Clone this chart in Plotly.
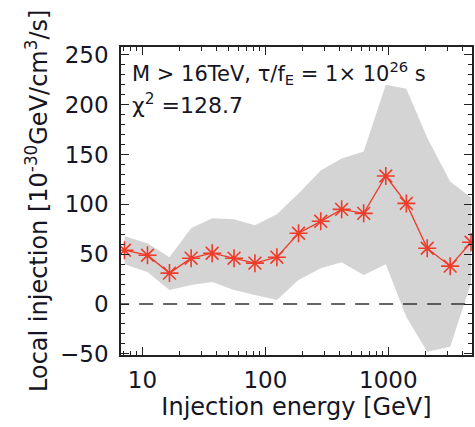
import plotly.graph_objects as go

energy = [7.15, 11.0, 16.6, 24.9, 36.9, 55.6, 82.2, 124, 186, 282, 417, 630, 953, 1400, 2070, 3180, 4700]
injection = [54, 49, 31, 46, 51, 46, 41, 47, 71, 83, 95, 91, 128.5, 101, 56, 38, 62]
band_upper = [68, 61, 47, 76, 86, 85, 79, 90, 111, 134, 146, 153, 220, 216, 167, 123, 107]
band_lower = [40, 32, 14, 19, 22, 14, 9, 4, 24, 36, 42, 29, 40, -13, -48, -43, 21]

x_ticks = [10, 100, 1000]
y_ticks = [-50, 0, 50, 100, 150, 200, 250]

FONT = "DejaVu Sans, Verdana, sans-serif"
TXT = "#151525"
RED = "#ee3b2a"

fig = go.Figure()
fig.add_trace(go.Scatter(x=energy, y=band_upper, mode="lines", line=dict(width=0, color="#d4d4d4"),
                         showlegend=False, hoverinfo="skip"))
fig.add_trace(go.Scatter(x=energy, y=band_lower, mode="lines", line=dict(width=0, color="#d4d4d4"),
                         fill="tonexty", fillcolor="#d4d4d4", showlegend=False, hoverinfo="skip"))
fig.add_trace(go.Scatter(x=[6.0, 6000], y=[0, 0], mode="lines",
                         line=dict(color="#333333", width=1.6, dash="14px,10px"),
                         showlegend=False, hoverinfo="skip"))
fig.add_trace(go.Scatter(x=energy, y=injection, mode="lines+markers",
                         line=dict(color=RED, width=1.3),
                         marker=dict(symbol="asterisk-open", size=15, line=dict(color=RED, width=1.6)),
                         showlegend=False))

axis_common = dict(showgrid=False, zeroline=False, showline=True, linecolor="#222", linewidth=1.5,
                   mirror="ticks", ticks="inside", tickcolor="#222", tickwidth=1,
                   tickfont=dict(family=FONT, size=23, color=TXT))

fig.update_xaxes(type="log", range=[0.826, 3.68], tickvals=x_ticks, ticktext=[str(v) for v in x_ticks],
                 ticklen=8, ticklabelstandoff=4,
                 minor=dict(ticks="inside", ticklen=4, tickcolor="#222", tickwidth=1,
                            tickvals=[v * d for d in [1, 10, 100, 1000] for v in range(2, 10)] + [6, 7, 8, 9]),
                 title=dict(text="Injection energy [GeV]", font=dict(family=FONT, size=24, color=TXT), standoff=3),
                 **axis_common)
fig.update_yaxes(range=[-51.2, 258], tickvals=y_ticks, ticklen=8, ticklabelstandoff=6,
                 minor=dict(ticks="inside", ticklen=4, tickcolor="#222", tickwidth=1, dtick=10),
                 **axis_common)

fig.add_annotation(text="Local injection [10<sup>-30</sup>GeV/cm<sup>3</sup>/s]", textangle=-90,
                   xref="paper", yref="paper", x=0, y=0.5, xanchor="center", yanchor="middle",
                   xshift=-84, showarrow=False, font=dict(family=FONT, size=24, color=TXT))
fig.add_annotation(text="M > 16TeV, τ/f<sub>E</sub> = 1× 10<sup>26</sup> s",
                   xref="paper", yref="paper", x=0, y=1, xanchor="left", yanchor="middle",
                   xshift=9, yshift=-26, showarrow=False, font=dict(family=FONT, size=21, color=TXT))
fig.add_annotation(text="χ<sup>2</sup> =128.7",
                   xref="paper", yref="paper", x=0, y=1, xanchor="left", yanchor="middle",
                   xshift=9, yshift=-57, showarrow=False, font=dict(family=FONT, size=22, color=TXT))

fig.update_layout(width=475, height=427, margin=dict(l=121, r=1, t=47, b=72),
                  paper_bgcolor="white", plot_bgcolor="white")
fig.write_html("out.html")
